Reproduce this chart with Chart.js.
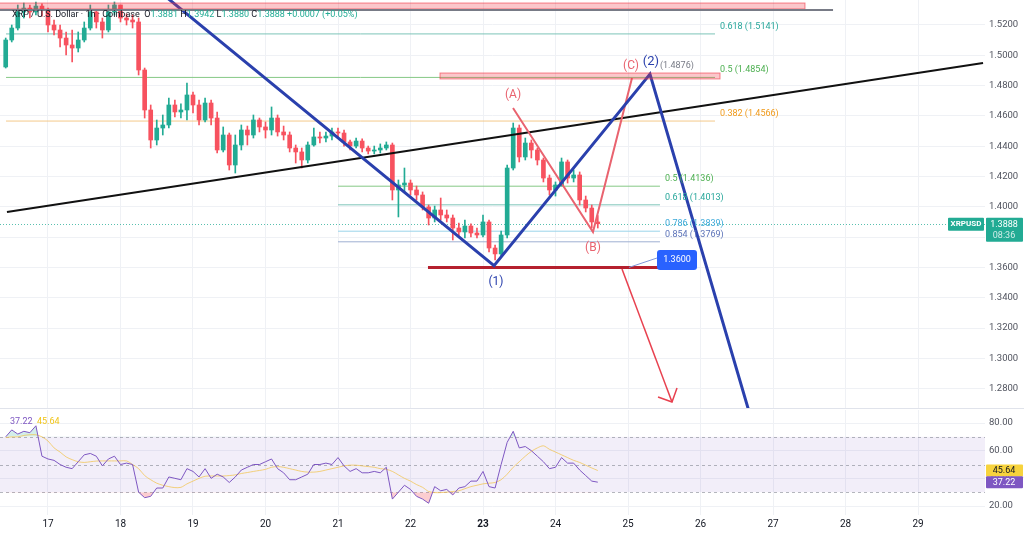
<!DOCTYPE html>
<html>
<head>
<meta charset="utf-8">
<script src="https://cdn.jsdelivr.net/npm/chart.js@4.4.1/dist/chart.umd.min.js"></script>
<style>
  html, body { margin: 0; padding: 0; background: #fff; }
  #wrap { position: relative; width: 1024px; height: 535px; overflow: hidden; }
  #price { position: absolute; left: 0; top: 0; }
  #rsi { position: absolute; left: 0; top: 408px; }
</style>
</head>
<body>
<div id="wrap">
  <canvas id="price" width="1024" height="408"></canvas>
  <canvas id="rsi" width="1024" height="127"></canvas>
</div>
<script>
// XRP/USD, 2h candles starting 16th 10:00
const startDay = 16 + 10 / 24;
const candleHours = 2;

const opens = [
  1.4923, 1.5101, 1.5180, 1.5286, 1.5312, 1.5286, 1.5325, 1.5299, 1.5200, 1.5167,
  1.5114, 1.5068, 1.5048, 1.5101, 1.5180, 1.5286, 1.5220, 1.5167, 1.5286, 1.5332,
  1.5246, 1.5233, 1.5220, 1.4903, 1.4639, 1.4441, 1.4520, 1.4540, 1.4672, 1.4626,
  1.4639, 1.4738, 1.4672, 1.4573, 1.4685, 1.4586, 1.4375, 1.4474, 1.4276, 1.4408,
  1.4507, 1.4474, 1.4573, 1.4527, 1.4507, 1.4586, 1.4494, 1.4474, 1.4388, 1.4362,
  1.4309, 1.4408, 1.4461, 1.4454, 1.4467, 1.4494, 1.4487, 1.4428, 1.4401, 1.4434,
  1.4388, 1.4368, 1.4375, 1.4388, 1.4408, 1.4111, 1.4144, 1.4157, 1.4111, 1.4078,
  1.3999, 1.3926, 1.3979, 1.3946, 1.3926, 1.3860, 1.3834, 1.3873, 1.3827, 1.3814,
  1.3900, 1.3728, 1.3689, 1.3814, 1.4256, 1.4520, 1.4329, 1.4421, 1.4375, 1.4309,
  1.4190, 1.4111, 1.4144, 1.4296, 1.4190, 1.4210, 1.4045, 1.3992, 1.3900
];
const highs = [
  1.5114, 1.5200, 1.5332, 1.5345, 1.5332, 1.5352, 1.5339, 1.5312, 1.5233, 1.5200,
  1.5154, 1.5167, 1.5154, 1.5220, 1.5332, 1.5299, 1.5246, 1.5332, 1.5352, 1.5332,
  1.5273, 1.5266, 1.5246, 1.4916, 1.4672, 1.4573, 1.4606, 1.4718, 1.4705, 1.4679,
  1.4817, 1.4758, 1.4705, 1.4718, 1.4705, 1.4626, 1.4527, 1.4487, 1.4474, 1.4540,
  1.4533, 1.4606, 1.4586, 1.4560, 1.4659, 1.4606, 1.4533, 1.4494, 1.4408, 1.4388,
  1.4428, 1.4520, 1.4494, 1.4494, 1.4520, 1.4520, 1.4507, 1.4441, 1.4454, 1.4448,
  1.4401, 1.4401, 1.4415, 1.4428, 1.4421, 1.4177, 1.4256, 1.4177, 1.4137, 1.4098,
  1.4012, 1.4005, 1.4058, 1.3979, 1.3946, 1.3893, 1.3913, 1.3887, 1.3860, 1.3946,
  1.3913, 1.3748, 1.3840, 1.4276, 1.4553, 1.4540, 1.4454, 1.4441, 1.4388, 1.4322,
  1.4210, 1.4164, 1.4322, 1.4309, 1.4243, 1.4230, 1.4071, 1.4012, 1.3942
];
const lows = [
  1.4916, 1.5088, 1.5167, 1.5246, 1.5246, 1.5266, 1.5259, 1.5154, 1.5134, 1.5055,
  1.5002, 1.4956, 1.5022, 1.5088, 1.5167, 1.5180, 1.5114, 1.5154, 1.5266, 1.5220,
  1.5200, 1.5180, 1.4870, 1.4586, 1.4388, 1.4408, 1.4474, 1.4520, 1.4593, 1.4586,
  1.4573, 1.4619, 1.4540, 1.4560, 1.4540, 1.4355, 1.4362, 1.4243, 1.4223, 1.4375,
  1.4408, 1.4454, 1.4494, 1.4454, 1.4474, 1.4467, 1.4441, 1.4362, 1.4289, 1.4256,
  1.4289, 1.4401, 1.4421, 1.4428, 1.4441, 1.4461, 1.4401, 1.4375, 1.4388, 1.4362,
  1.4349, 1.4349, 1.4355, 1.4375, 1.4045, 1.3933, 1.4098, 1.4078, 1.4045, 1.3979,
  1.3880, 1.3900, 1.3913, 1.3900, 1.3781, 1.3801, 1.3794, 1.3801, 1.3794, 1.3801,
  1.3702, 1.3649, 1.3669, 1.3794, 1.4243, 1.4296, 1.4309, 1.4322, 1.4276, 1.4164,
  1.4078, 1.4071, 1.4137, 1.4157, 1.4164, 1.4012, 1.3966, 1.3860, 1.3860
];
const closes = [
  1.5101, 1.5180, 1.5286, 1.5312, 1.5286, 1.5325, 1.5299, 1.5200, 1.5167, 1.5114,
  1.5068, 1.5048, 1.5101, 1.5180, 1.5286, 1.5220, 1.5167, 1.5286, 1.5332, 1.5246,
  1.5233, 1.5220, 1.4903, 1.4639, 1.4441, 1.4520, 1.4540, 1.4672, 1.4626, 1.4639,
  1.4738, 1.4672, 1.4573, 1.4685, 1.4586, 1.4375, 1.4474, 1.4276, 1.4408, 1.4507,
  1.4474, 1.4573, 1.4527, 1.4507, 1.4586, 1.4494, 1.4474, 1.4388, 1.4362, 1.4309,
  1.4408, 1.4461, 1.4454, 1.4467, 1.4494, 1.4487, 1.4428, 1.4401, 1.4434, 1.4388,
  1.4368, 1.4375, 1.4388, 1.4408, 1.4111, 1.4144, 1.4157, 1.4111, 1.4078, 1.3999,
  1.3926, 1.3979, 1.3946, 1.3926, 1.3860, 1.3834, 1.3873, 1.3827, 1.3814, 1.3900,
  1.3728, 1.3689, 1.3814, 1.4256, 1.4520, 1.4329, 1.4421, 1.4375, 1.4309, 1.4190,
  1.4111, 1.4144, 1.4296, 1.4190, 1.4210, 1.4045, 1.3992, 1.3900, 1.3888
];

const rsiValues = [
  70, 75, 72, 74, 73, 78, 56, 54, 53, 50,
  48, 47, 52, 57, 58, 56, 49, 54, 56, 50,
  51, 50, 30, 26, 27, 33, 33, 41, 40, 39,
  47, 45, 41, 47, 40, 43, 41, 37, 41, 46,
  48, 50, 50, 52, 54, 47, 44, 39, 39, 41,
  43, 50, 50, 51, 50, 55, 49, 45, 47, 44,
  44, 45, 44, 48, 25, 30, 35, 32, 27, 25,
  22, 34, 31, 32, 28, 33, 34, 38, 38, 45,
  34, 33, 50, 66, 74, 62, 63, 60, 56, 52,
  47, 48, 55, 51, 51, 46, 42, 38, 37.22
];
const rsiMa = [
  69.5, 70, 70, 71, 71.5, 71.5, 70, 67, 62, 59,
  55.5, 53.5, 52, 51.5, 52, 52.5, 52.6, 52.6, 52.6, 52.6,
  52.6, 50, 47, 42, 39, 36.5, 35, 34, 33.3, 33.5,
  36, 38, 40, 41.5, 41.7, 41.7, 41.7, 42, 42.5, 43.5,
  44.2, 45, 45.7, 46.5, 48, 48.5, 48, 47, 46, 45,
  44.5, 44.5, 45, 46, 47, 48, 49, 49.5, 49.5, 49,
  48.5, 48, 47, 46.5, 45, 42.5, 40, 38, 35.5, 33.5,
  30.5, 29.7, 29.7, 30, 30.5, 31, 32.5, 34, 35, 36,
  36.5, 37, 39, 43, 48, 52, 56, 59.5, 62, 63.5,
  61, 59, 57, 55, 53, 51.5, 49.5, 47.5, 45.64
];

const priceTicks = [1.28, 1.30, 1.32, 1.34, 1.36, 1.38, 1.40, 1.42, 1.44, 1.46, 1.48, 1.50, 1.52];
const rsiTicks = [20, 40, 60, 80];
const dayTicks = [17, 18, 19, 20, 21, 22, 23, 24, 25, 26, 27, 28, 29];

// drawings: [day, price]
const trendLine = [[16.434, 1.3966], [29.897, 1.4949]];
const waveBlue = [[18.545, 1.5418], [23.152, 1.3612], [25.303, 1.4876], [26.71, 1.2582]];
const waveRed = [[23.414, 1.4652], [24.517, 1.3834], [25.055, 1.4850]];
const arrowShaft = [[24.917, 1.3589], [25.607, 1.2712]];
const arrowHead = [[25.414, 1.2745], [25.607, 1.2712], [25.676, 1.2804]];
const supportLine = [[22.241, 1.3600], [25.441, 1.3600]];
const supportLink = [[25.014, 1.3600], [25.40, 1.3662]];
const fibUpper = [[0.618, 1.5141], [0.5, 1.4854], [0.382, 1.4566]];
const fibUpperSpan = [16.421, 26.2];
const fibLower = [[0.5, 1.4136], [0.618, 1.4013], [0.786, 1.3839], [0.854, 1.3769]];
const fibLowerSpan = [21.0, 25.441];
const topZone = [16.2, 27.441, 1.5345, 1.5306];
const topZoneLine = [[16.2, 1.5299], [27.828, 1.5299]];
const targetZone = [22.407, 26.269, 1.4883, 1.4844];
const lastPrice = 1.3888;

const dayMin = 16.338, dayMax = 29.924;
const priceMin = 1.2672, priceMax = 1.5365;

const upColor = '#22ab94';
const downColor = '#f7525f';
const gridColor = '#eff1f5';
const axisText = '#50535e';
const font = 'Roboto, "Noto Sans", sans-serif';
const fibColors = {
  0.382: ['#f4c98a', '#f09a1a'],
  0.5: ['#86c986', '#4caf50'],
  0.618: ['#7cc4b8', '#26a69a'],
  0.786: ['#9ad4ea', '#3ba9d9'],
  0.854: ['#9fb0d2', '#5b72b8']
};

const candleDays = opens.map((_, i) => startDay + i * candleHours / 24);
const isUp = i => closes[i] >= opens[i];

function line(points, color, width, order, dash) {
  return {
    type: 'line',
    data: points.map(([d, p]) => ({ x: d, y: p })),
    borderColor: color,
    borderWidth: width,
    borderDash: dash || [],
    pointRadius: 0,
    fill: false,
    tension: 0,
    order: order
  };
}

const datasets = [];
fibUpper.forEach(([r, p]) => datasets.push(line([[fibUpperSpan[0], p], [fibUpperSpan[1], p]], fibColors[r][0], 1, 40)));
fibLower.forEach(([r, p]) => datasets.push(line([[fibLowerSpan[0], p], [fibLowerSpan[1], p]], fibColors[r][0], 1, 40)));
datasets.push({
  type: 'bar',
  data: candleDays.map((d, i) => ({ x: d, y: [lows[i], highs[i]] })),
  backgroundColor: candleDays.map((d, i) => isUp(i) ? upColor : downColor),
  barThickness: 1,
  grouped: false,
  order: 30
});
datasets.push({
  type: 'bar',
  data: candleDays.map((d, i) => ({ x: d, y: [opens[i], closes[i]] })),
  backgroundColor: candleDays.map((d, i) => isUp(i) ? upColor : downColor),
  barThickness: 4,
  minBarLength: 1,
  grouped: false,
  order: 29
});
datasets.push(line(trendLine, '#111111', 2, 8));
datasets.push(line(supportLine, '#b5202e', 3, 7));
datasets.push(line(supportLink, '#7f96d9', 1, 6));
datasets.push(line(arrowShaft, '#e8414f', 1.5, 5));
datasets.push(line(arrowHead, '#e8414f', 1.5, 5));
datasets.push(line(waveRed, '#e9636f', 2, 4));
datasets.push(line(waveBlue, '#2a40ad', 3, 3));

function box(ctx, x, y, w, h, bg, r) {
  ctx.fillStyle = bg;
  ctx.beginPath();
  ctx.roundRect(x, y, w, h, r || 0);
  ctx.fill();
}

function noPad(s) {
  s.paddingTop = 0;
  s.paddingBottom = 0;
  s.paddingLeft = 0;
  s.paddingRight = 0;
}

const priceOverlay = {
  id: 'priceOverlay',
  beforeDatasetsDraw(chart) {
    const { ctx, chartArea, scales: { y } } = chart;
    ctx.save();
    // last price dotted line
    ctx.strokeStyle = 'rgba(34,171,148,0.75)';
    ctx.setLineDash([1, 2]);
    ctx.lineWidth = 1;
    const ly = Math.round(y.getPixelForValue(lastPrice)) + 0.5;
    ctx.beginPath();
    ctx.moveTo(chartArea.left, ly);
    ctx.lineTo(chartArea.right, ly);
    ctx.stroke();
    ctx.restore();
  },
  afterDatasetsDraw(chart) {
    const { ctx, scales: { x, y } } = chart;
    const X = v => x.getPixelForValue(v);
    const Y = v => y.getPixelForValue(v);
    ctx.save();
    // zones
    ctx.fillStyle = 'rgba(242,54,69,0.28)';
    ctx.strokeStyle = 'rgba(242,54,69,0.6)';
    ctx.lineWidth = 1;
    ctx.fillRect(X(topZone[0]), Y(topZone[2]), X(topZone[1]) - X(topZone[0]), Y(topZone[3]) - Y(topZone[2]));
    ctx.strokeRect(X(topZone[0]), Y(topZone[2]), X(topZone[1]) - X(topZone[0]), Y(topZone[3]) - Y(topZone[2]));
    ctx.fillRect(X(targetZone[0]), Y(targetZone[2]), X(targetZone[1]) - X(targetZone[0]), Y(targetZone[3]) - Y(targetZone[2]));
    ctx.strokeRect(X(targetZone[0]), Y(targetZone[2]), X(targetZone[1]) - X(targetZone[0]), Y(targetZone[3]) - Y(targetZone[2]));
    ctx.strokeStyle = '#787b86';
    ctx.lineWidth = 2;
    ctx.beginPath();
    ctx.moveTo(X(topZoneLine[0][0]), Y(topZoneLine[0][1]));
    ctx.lineTo(X(topZoneLine[1][0]), Y(topZoneLine[1][1]));
    ctx.stroke();

    // legend header, over the candles
    ctx.font = '9px ' + font;
    ctx.textBaseline = 'middle';
    ctx.textAlign = 'left';
    let tx = 12;
    const parts = [
      ['XRP / U.S. Dollar · 1h · Coinbase  ', '#131722'],
      ['O', '#131722'], ['1.3881 ', upColor],
      ['H', '#131722'], ['1.3942 ', upColor],
      ['L', '#131722'], ['1.3880 ', upColor],
      ['C', '#131722'], ['1.3888 ', upColor],
      ['+0.0007 (+0.05%)', upColor]
    ];
    parts.forEach(([t, c]) => {
      ctx.fillStyle = c;
      ctx.fillText(t, tx, 15);
      tx += ctx.measureText(t).width;
    });

    // fib labels
    ctx.textBaseline = 'bottom';
    fibUpper.forEach(([r, p]) => {
      ctx.fillStyle = fibColors[r][1];
      ctx.fillText(r + ' (' + p.toFixed(4) + ')', X(fibUpperSpan[1]) + 5, Y(p) - 3);
    });
    fibLower.forEach(([r, p]) => {
      ctx.fillStyle = fibColors[r][1];
      ctx.fillText(r + ' (' + p.toFixed(4) + ')', X(fibLowerSpan[1]) + 5, Y(p) - 3);
    });

    // wave labels
    ctx.textBaseline = 'middle';
    ctx.textAlign = 'center';
    ctx.font = '12px ' + font;
    ctx.fillStyle = '#e9636f';
    ctx.fillText('(A)', X(waveRed[0][0]), Y(waveRed[0][1]) - 13);
    ctx.fillText('(B)', X(waveRed[1][0]), Y(waveRed[1][1]) + 16);
    ctx.fillText('(C)', X(waveRed[2][0]) - 1, Y(waveRed[2][1]) - 12);
    ctx.fillStyle = '#2a40ad';
    ctx.fillText('(1)', X(waveBlue[1][0]) + 2, Y(waveBlue[1][1]) + 16);
    ctx.font = '13px ' + font;
    ctx.fillText('(2)', X(waveBlue[2][0]) + 1, Y(waveBlue[2][1]) - 12);
    ctx.font = '9px ' + font;
    ctx.fillStyle = '#787b86';
    ctx.textAlign = 'left';
    ctx.fillText('(1.4876)', X(waveBlue[2][0]) + 10, Y(waveBlue[2][1]) - 8);

    // 1.3600 tag
    const bx = X(supportLink[1][0]);
    const by = Y(supportLink[1][1]);
    box(ctx, bx, by - 8, 40, 20, '#2962ff', 3);
    ctx.fillStyle = '#ffffff';
    ctx.textAlign = 'center';
    ctx.font = '9px ' + font;
    ctx.fillText('1.3600', bx + 20, by + 2);
    ctx.restore();
  },
  afterDraw(chart) {
    const { ctx, chartArea, scales: { y } } = chart;
    const ly = y.getPixelForValue(lastPrice);
    ctx.save();
    box(ctx, chartArea.right - 37, ly - 6, 36, 13, upColor, 1);
    box(ctx, chartArea.right + 1, ly - 6, 37, 24, upColor, 1);
    ctx.fillStyle = '#ffffff';
    ctx.textBaseline = 'middle';
    ctx.textAlign = 'center';
    ctx.font = 'bold 8px ' + font;
    ctx.fillText('XRPUSD', chartArea.right - 19, ly + 0.5);
    ctx.font = '9px ' + font;
    ctx.fillText(lastPrice.toFixed(4), chartArea.right + 19, ly + 0.5);
    ctx.fillStyle = 'rgba(255,255,255,0.8)';
    ctx.fillText('08:36', chartArea.right + 19, ly + 11.5);
    ctx.restore();
  }
};

new Chart(document.getElementById('price'), {
  type: 'bar',
  data: { datasets: datasets },
  options: {
    responsive: false,
    animation: false,
    devicePixelRatio: 1,
    layout: { padding: 0 },
    plugins: { legend: { display: false }, tooltip: { enabled: false } },
    scales: {
      x: {
        type: 'linear', min: dayMin, max: dayMax, offset: false,
        grid: { color: gridColor, drawTicks: false, offset: false },
        border: { display: false },
        ticks: { display: false },
        afterBuildTicks: s => { s.ticks = dayTicks.map(v => ({ value: v })); },
        afterFit: s => { s.height = 0; noPad(s); }
      },
      y: {
        type: 'linear', position: 'right', min: priceMin, max: priceMax,
        grid: { color: gridColor, drawTicks: false },
        border: { display: false },
        ticks: { padding: 4, color: axisText, font: { family: font, size: 9.5 }, callback: v => v.toFixed(4) },
        afterBuildTicks: s => { s.ticks = priceTicks.map(v => ({ value: v })); },
        afterFit: s => { s.width = 39; noPad(s); }
      }
    }
  },
  plugins: [priceOverlay]
});

// RSI pane
const rsiOverlay = {
  id: 'rsiOverlay',
  beforeDatasetsDraw(chart) {
    const { ctx, chartArea, scales: { y } } = chart;
    ctx.save();
    ctx.fillStyle = 'rgba(126,87,194,0.1)';
    ctx.fillRect(chartArea.left, y.getPixelForValue(70), chartArea.right - chartArea.left, y.getPixelForValue(30) - y.getPixelForValue(70));
    ctx.strokeStyle = 'rgba(120,123,134,0.55)';
    ctx.setLineDash([3, 3]);
    ctx.lineWidth = 1;
    [70, 50, 30].forEach(v => {
      const py = Math.round(y.getPixelForValue(v)) + 0.5;
      ctx.beginPath();
      ctx.moveTo(chartArea.left, py);
      ctx.lineTo(chartArea.right, py);
      ctx.stroke();
    });
    ctx.restore();
  },
  afterDraw(chart) {
    const { ctx, chartArea, scales: { y } } = chart;
    ctx.save();
    // pane separator
    ctx.fillStyle = '#e0e3eb';
    ctx.fillRect(0, 0, 1024, 1);
    ctx.font = '9px ' + font;
    ctx.textBaseline = 'middle';
    ctx.textAlign = 'left';
    ctx.fillStyle = '#7e57c2';
    ctx.fillText('37.22', 10, 14);
    ctx.fillStyle = '#f0c419';
    ctx.fillText('45.64', 37, 14);
    const my = y.getPixelForValue(45.64);
    const ry = y.getPixelForValue(37.22);
    box(ctx, chartArea.right + 1, my - 6, 37, 12, '#f7d33d', 1);
    box(ctx, chartArea.right + 1, ry - 6, 37, 12, '#7e57c2', 1);
    ctx.textAlign = 'center';
    ctx.fillStyle = '#131722';
    ctx.fillText('45.64', chartArea.right + 19, my + 0.5);
    ctx.fillStyle = '#ffffff';
    ctx.fillText('37.22', chartArea.right + 19, ry + 0.5);
    ctx.restore();
  }
};

new Chart(document.getElementById('rsi'), {
  type: 'line',
  data: {
    datasets: [
      {
        data: candleDays.map((d, i) => ({ x: d, y: rsiValues[i] })),
        borderColor: '#7e57c2', borderWidth: 1, pointRadius: 0, tension: 0,
        fill: { target: { value: 30 }, above: 'rgba(0,0,0,0)', below: 'rgba(242,54,69,0.25)' },
        order: 1
      },
      {
        data: candleDays.map((d, i) => ({ x: d, y: rsiValues[i] })),
        borderColor: 'rgba(0,0,0,0)', borderWidth: 0, pointRadius: 0, tension: 0,
        fill: { target: { value: 70 }, above: 'rgba(34,171,148,0.2)', below: 'rgba(0,0,0,0)' },
        order: 3
      },
      {
        data: candleDays.map((d, i) => ({ x: d, y: rsiMa[i] })),
        borderColor: 'rgba(242,196,80,0.75)', borderWidth: 1, pointRadius: 0, tension: 0.3,
        fill: false,
        order: 2
      }
    ]
  },
  options: {
    responsive: false,
    animation: false,
    devicePixelRatio: 1,
    layout: { padding: { top: 2 } },
    plugins: { legend: { display: false }, tooltip: { enabled: false } },
    scales: {
      x: {
        type: 'linear', min: dayMin, max: dayMax,
        grid: { color: gridColor, drawTicks: false },
        border: { display: false },
        ticks: {
          padding: 3, color: '#131722',
          font: ctx => ({ family: font, size: 10, weight: ctx.tick && ctx.tick.value === 23 ? 'bold' : 'normal' }),
          callback: v => String(v)
        },
        afterBuildTicks: s => { s.ticks = dayTicks.map(v => ({ value: v })); },
        afterFit: s => { s.height = 20; noPad(s); }
      },
      y: {
        type: 'linear', position: 'right', min: 13.5, max: 89.4,
        grid: { color: gridColor, drawTicks: false },
        border: { display: false },
        ticks: { padding: 4, color: axisText, font: { family: font, size: 9.5 }, callback: v => v.toFixed(2) },
        afterBuildTicks: s => { s.ticks = rsiTicks.map(v => ({ value: v })); },
        afterFit: s => { s.width = 39; noPad(s); }
      }
    }
  },
  plugins: [rsiOverlay]
});
</script>
</body>
</html>
